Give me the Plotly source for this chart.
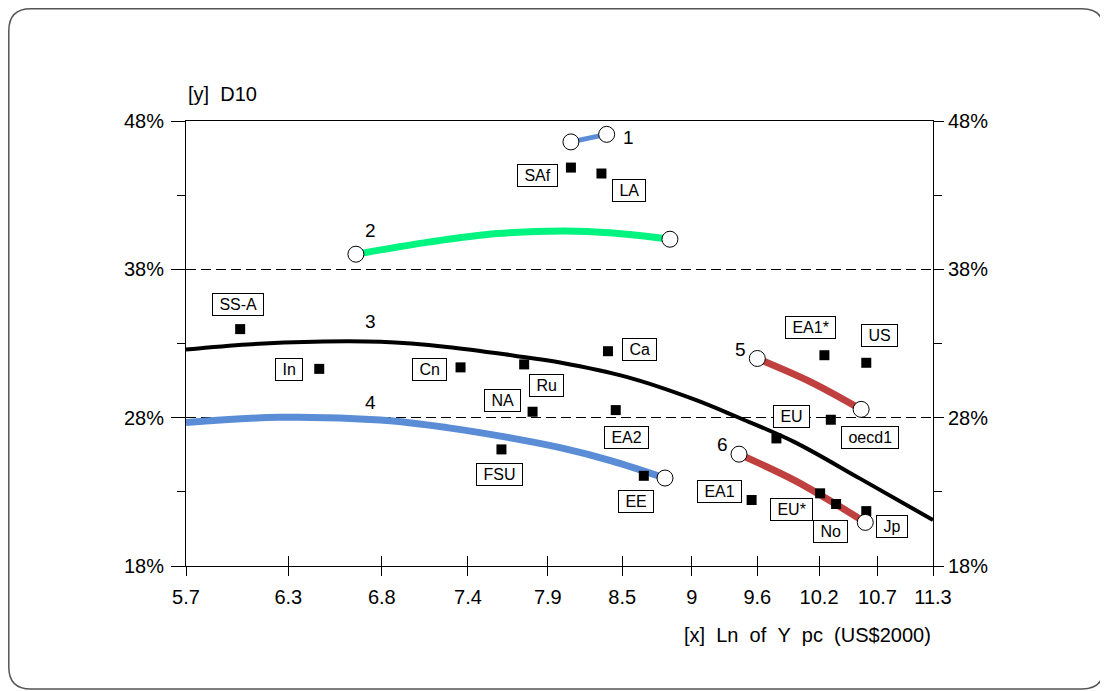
import math
import plotly.graph_objects as go

# ---------------- data ----------------
x_tick_vals = [5.7, 6.26, 6.82, 7.38, 7.94, 8.5, 9.06, 9.62, 10.18, 10.74, 11.3]
x_tick_text = ["5.7", "6.3", "6.8", "7.4", "7.9", "8.5", "9", "9.6", "10.2", "10.7", "11.3"]
y_tick_vals = [18, 28, 38, 48]
y_tick_text = ["18%", "28%", "38%", "48%"]
y_minor_vals = [23, 33, 43]

country_names = ["SS-A", "In", "Cn", "Ru", "NA", "FSU", "Ca", "EA2", "EE", "SAf", "LA",
                 "EA1*", "US", "EU", "oecd1", "EA1", "EU*", "No", "Jp"]
country_x = [5.99, 6.44, 7.33, 7.77, 7.83, 7.61, 8.39, 8.45, 8.67, 8.11, 8.34,
             10.23, 10.63, 9.79, 10.29, 9.57, 10.19, 10.34, 10.63]
country_y = [33.97, 31.29, 31.39, 31.59, 28.40, 25.86, 32.48, 28.51, 24.08, 44.86, 44.46,
             32.21, 31.70, 26.60, 27.86, 22.45, 22.90, 22.18, 21.70]

curve1_x = [8.11, 8.38]
curve1_y = [46.59, 47.10]
curve2_x = [6.66, 7.13, 7.58, 8.06, 8.43, 8.88]
curve2_y = [39.02, 39.85, 40.41, 40.59, 40.45, 40.03]
curve3_x = [5.70, 6.03, 6.41, 6.81, 7.24, 7.70, 8.03, 8.54, 9.08, 9.44, 9.95, 10.57, 11.30]
curve3_y = [32.60, 32.94, 33.12, 33.11, 32.77, 32.18, 31.72, 30.73, 29.23, 28.06, 26.37, 23.89, 21.10]
curve4_x = [5.70, 6.21, 6.81, 7.24, 7.70, 8.03, 8.41, 8.84]
curve4_y = [27.67, 28.02, 27.84, 27.33, 26.59, 25.98, 25.11, 23.93]
curve5_x = [9.62, 10.10, 10.58]
curve5_y = [31.99, 30.42, 28.56]
curve6_x = [9.46, 9.95, 10.35, 10.62]
curve6_y = [25.54, 23.79, 22.11, 20.94]

curve_ids = ["1", "2", "3", "4", "5", "6"]
curve_label_x = [8.55, 6.75, 6.75, 6.75, 9.47, 9.32]
curve_label_y = [46.92, 40.59, 34.46, 29.03, 32.60, 26.22]

# ---------------- styling / layout ----------------
OFF = 8  # default page body margin
W, H = 1108 - OFF, 691 - OFF
ML, MT = 186 - OFF, 121 - OFF
PW, PH = 747, 445
MR, MB = W - ML - PW, H - MT - PH
FONT = "Liberation Sans, Arial, Helvetica, sans-serif"

BLUE = "#5b8dd6"
GREEN = "#00f47f"
RED = "#c0403f"

curves = [
    (curve1_x, curve1_y, BLUE, 5, (True, True)),
    (curve2_x, curve2_y, GREEN, 7, (True, True)),
    (curve3_x, curve3_y, "black", 4, (False, False)),
    (curve4_x, curve4_y, BLUE, 7, (False, True)),
    (curve5_x, curve5_y, RED, 7, (True, True)),
    (curve6_x, curve6_y, RED, 7, (True, True)),
]

# label box offsets in pixels (dx right, dy down)
label_offsets = {
    "SS-A": (-2, -25), "In": (-30, 1), "Cn": (-31, 2), "Ru": (22, 21), "NA": (-30, -11),
    "FSU": (-2, 25), "Ca": (32, -2), "EA2": (11, 27), "EE": (-8, 26), "SAf": (-33, 8),
    "LA": (28, 17), "EA1*": (-14, -28), "US": (13, -27), "EU": (15, -22), "oecd1": (39, 18),
    "EA1": (-32, -8), "EU*": (-29, 16), "No": (-6, 27), "Jp": (26, 15),
}

fig = go.Figure()

for cx, cy, col, lw, ends in curves:
    fig.add_trace(go.Scatter(x=cx, y=cy, mode="lines",
                             line=dict(color=col, width=lw, shape="spline", smoothing=1.0),
                             hoverinfo="skip", showlegend=False))

fig.add_trace(go.Scatter(x=country_x, y=country_y, mode="markers",
                         marker=dict(symbol="square", size=10, color="black"),
                         showlegend=False, hoverinfo="skip"))

end_x, end_y = [], []
for cx, cy, col, lw, ends in curves:
    if ends[0]:
        end_x.append(cx[0]); end_y.append(cy[0])
    if ends[1]:
        end_x.append(cx[-1]); end_y.append(cy[-1])
fig.add_trace(go.Scatter(x=end_x, y=end_y, mode="markers",
                         marker=dict(symbol="circle", size=16, color="white",
                                     line=dict(color="black", width=1)),
                         showlegend=False, hoverinfo="skip"))

# invisible trace for secondary axes
fig.add_trace(go.Scatter(x=[x_tick_vals[0]], y=[y_tick_vals[0]], xaxis="x2", yaxis="y2",
                         mode="markers", marker=dict(opacity=0), showlegend=False, hoverinfo="skip"))

NB = "\u00a0"
for name, xv, yv in zip(country_names, country_x, country_y):
    dx, dy = label_offsets[name]
    fig.add_annotation(x=math.log10(xv), y=yv, text=NB + name + NB, showarrow=False,
                       xshift=dx, yshift=-dy, font=dict(family=FONT, size=16, color="black"),
                       bgcolor="white", bordercolor="black", borderwidth=1, borderpad=2)

for cid, lx, ly in zip(curve_ids, curve_label_x, curve_label_y):
    fig.add_annotation(x=math.log10(lx), y=ly, text=cid, showarrow=False,
                       font=dict(family=FONT, size=19, color="black"))


def fx(p):
    return (p - OFF - ML) / PW


def fy(p):
    return (MT + PH - (p - OFF)) / PH


fig.add_annotation(xref="paper", yref="paper", x=0.0, y=fy(94),
                   xanchor="left", yanchor="middle", showarrow=False,
                   text="[y]" + NB * 2 + "D10", font=dict(family=FONT, size=20, color="black"))
fig.add_annotation(xref="paper", yref="paper", x=1.0, y=fy(635),
                   xanchor="right", yanchor="middle", showarrow=False,
                   text=(NB * 2).join(["[x]", "Ln", "of", "Y", "pc", "(US$2000)"]),
                   font=dict(family=FONT, size=20, color="black"))

# outer rounded frame (viewport pixel positions)
L, T, R, B, r = OFF + 0.8, OFF + 0.8, 1104, 689, 22
path = (f"M {fx(L + r)},{fy(T)} L {fx(R - r)},{fy(T)} Q {fx(R)},{fy(T)} {fx(R)},{fy(T + r)} "
        f"L {fx(R)},{fy(B - r)} Q {fx(R)},{fy(B)} {fx(R - r)},{fy(B)} "
        f"L {fx(L + r)},{fy(B)} Q {fx(L)},{fy(B)} {fx(L)},{fy(B - r)} "
        f"L {fx(L)},{fy(T + r)} Q {fx(L)},{fy(T)} {fx(L + r)},{fy(T)} Z")
fig.add_shape(type="path", path=path, xref="paper", yref="paper",
              line=dict(color="#555555", width=1.5), layer="below")

xr = [math.log10(x_tick_vals[0]), math.log10(x_tick_vals[-1])]
yr = [y_tick_vals[0], y_tick_vals[-1]]
tickfont = dict(family=FONT, size=20, color="black")

fig.update_layout(
    width=W, height=H,
    margin=dict(l=ML, r=MR, t=MT, b=MB, pad=0),
    paper_bgcolor="white", plot_bgcolor="white",
    showlegend=False,
    font=dict(family=FONT, color="black"),
    xaxis=dict(type="log", range=xr, tickvals=x_tick_vals, ticktext=x_tick_text,
               ticks="outside", ticklen=9, tickwidth=1, tickcolor="black",
               showline=True, linecolor="black", linewidth=1, mirror=True,
               showgrid=False, zeroline=False, tickfont=tickfont, ticklabelstandoff=4),
    xaxis2=dict(type="log", range=xr, tickvals=x_tick_vals, overlaying="x", anchor="y",
                side="bottom", ticks="inside", ticklen=10, tickwidth=1, tickcolor="black",
                showticklabels=False, showline=False, showgrid=False, zeroline=False),
    yaxis=dict(range=yr, tickvals=y_tick_vals, ticktext=y_tick_text,
               ticks="outside", ticklen=14, tickwidth=1, tickcolor="black",
               minor=dict(tickvals=y_minor_vals, ticks="outside", ticklen=8, tickcolor="black"),
               showline=True, linecolor="black", linewidth=1, mirror=True,
               showgrid=True, gridcolor="black", gridwidth=1, griddash="10px,5px",
               zeroline=False, tickfont=tickfont, ticklabelstandoff=3),
    yaxis2=dict(range=yr, tickvals=y_tick_vals, ticktext=y_tick_text, overlaying="y",
                anchor="x", side="right", ticks="outside", ticklen=10, tickwidth=1,
                tickcolor="black",
                minor=dict(tickvals=y_minor_vals, ticks="outside", ticklen=8, tickcolor="black"),
                showline=False, showgrid=False, zeroline=False, tickfont=tickfont),
)

fig.write_html("out.html")
